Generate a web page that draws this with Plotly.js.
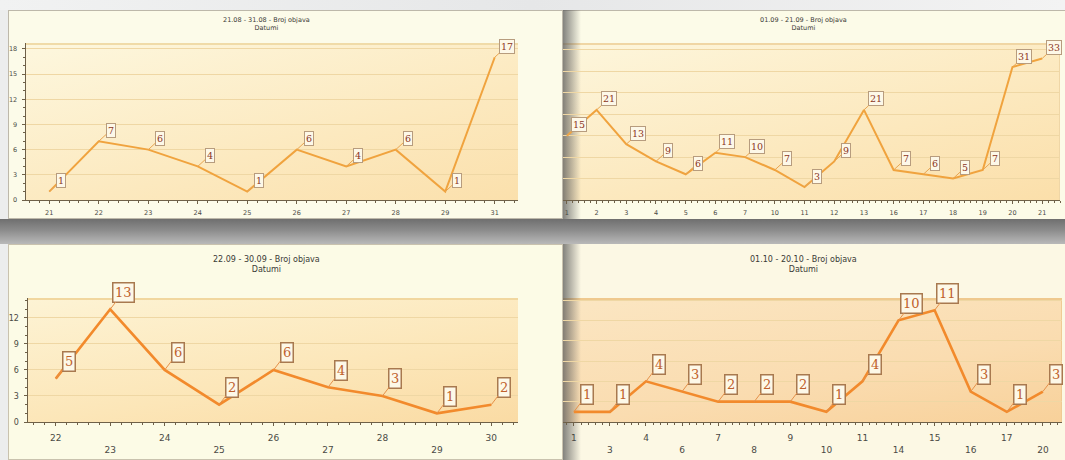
<!DOCTYPE html>
<html><head><meta charset="utf-8">
<script src="https://cdn.plot.ly/plotly-3.0.1.min.js"></script>
<style>
html,body{margin:0;padding:0;width:1065px;height:460px;overflow:hidden;background:#eceded;}
.abs{position:absolute;box-sizing:border-box;}
#chart{position:absolute;left:0;top:0;width:1065px;height:460px;}
</style></head>
<body>
<div class="abs" style="left:0;top:0;width:1065px;height:10px;background:linear-gradient(to right,#f1f2f2,#e6e7e8 50%,#f3f3f3);"></div>
<div class="abs" style="left:0;top:219px;width:1065px;height:25px;background:linear-gradient(to bottom,#6f6f6f,#8c8c8c 45%,#b9b9b9);"></div>
<div class="abs" style="left:8px;top:10px;width:555px;height:209px;background:#fcfbe9;border:1px solid #bdb8aa;"></div>
<div class="abs" style="left:563px;top:10px;width:502px;height:209px;background:#fcfbe8;border-top:1px solid #bdb8aa;"></div>
<div class="abs" style="left:8px;top:244px;width:555px;height:216px;background:#fcfbe6;border:1px solid #c9c2ae;"></div>
<div class="abs" style="left:563px;top:244px;width:502px;height:216px;background:#fcf8e4;"></div>
<div class="abs" style="left:26px;top:43px;width:492px;height:157px;background:linear-gradient(165deg,#fdf7de,#fce9bf 60%,#fbe0ac);border-top:2px solid #f0dba8;"></div>
<div class="abs" style="left:563px;top:43px;width:497px;height:157px;background:linear-gradient(165deg,#fdf6dc,#fce8bd 60%,#fbdfaa);border-top:2px solid #f0d6a4;border-right:1px solid #efd6a6;"></div>
<div class="abs" style="left:28px;top:298px;width:490px;height:124px;background:linear-gradient(170deg,#fdf3d4,#fce6b8 60%,#fadba4);border-top:2px solid #f1d79f;"></div>
<div class="abs" style="left:563px;top:298px;width:499px;height:124px;background:linear-gradient(170deg,#fbe6c2,#fadcb0 60%,#f8d19a);border-top:2px solid #efc98e;border-right:1px solid #efcb94;"></div>
<div class="abs" style="left:563px;top:10px;width:18px;height:209px;background:linear-gradient(to right,rgba(90,90,90,0.75),rgba(120,120,120,0));"></div>
<div class="abs" style="left:563px;top:244px;width:18px;height:216px;background:linear-gradient(to right,rgba(90,90,90,0.75),rgba(120,120,120,0));"></div>
<div id="chart"></div>
<script>
// ---- data ----
const cats1 = ["21","22","23","24","25","26","27","28","29","31"];
const vals1 = [1,7,6,4,1,6,4,6,1,17];
const title1 = "21.08 - 31.08 - Broj objava";

const cats2 = ["1","2","3","4","5","6","7","10","11","12","13","16","17","18","19","20","21"];
const vals2 = [15,21,13,9,6,11,10,7,3,9,21,7,6,5,7,31,33];
const title2 = "01.09 - 21.09 - Broj objava";

const cats3 = ["22","23","24","25","26","27","28","29","30"];
const vals3 = [5,13,6,2,6,4,3,1,2];
const title3 = "22.09 - 30.09 - Broj objava";

const cats4 = ["1","3","4","6","7","8","9","10","11","14","15","16","17","20"];
const vals4 = [1,1,4,3,2,2,2,1,4,10,11,3,1,3];
const title4 = "01.10 - 20.10 - Broj objava";

const subtitle = "Datumi";

// ---- layout helpers (pixel based) ----
const W = 1065, H = 460;
const dx = (a,b) => [a/W, b/W];
const dy = (top,bot) => [1-bot/H, 1-top/H];
const idx = arr => arr.map((_,i)=>i);

const topLine = {color:'#f0a33e', width:2};
const botLine = {color:'#f28a2c', width:2.6};

const traces = [
  {x: idx(cats1), y: vals1, xaxis:'x', yaxis:'y', mode:'lines', line:topLine, hoverinfo:'skip'},
  {x: idx(cats2), y: vals2, xaxis:'x2', yaxis:'y2', mode:'lines', line:topLine, hoverinfo:'skip'},
  {x: idx(cats3), y: vals3, xaxis:'x3', yaxis:'y3', mode:'lines', line:botLine, hoverinfo:'skip'},
  {x: idx(cats4), y: vals4, xaxis:'x4', yaxis:'y4', mode:'lines', line:botLine, hoverinfo:'skip'}
];

const axCol = '#6e6048';
const gridCol = '#efd7a4';
function xax(dom, cats, range, fs, standoff, twoRow, anchor){
  return {
    domain: dom, anchor: anchor, range: range, type:'linear',
    tickmode:'array', tickvals: idx(cats),
    ticktext: twoRow ? cats.map((c,i)=> i%2===0 ? c : '<br>'+c) : cats,
    tickfont:{family:'DejaVu Sans', size:fs, color:'#4a4a44'},
    ticks:'outside', ticklen:3, tickcolor:axCol, ticklabelstandoff: standoff,
    minor:{ticks:'outside', ticklen:2, dtick:0.2, tick0:0, tickcolor:axCol},
    showline:true, linecolor:axCol, linewidth:1, showgrid:false, zeroline:false, fixedrange:true
  };
}
function yax(dom, range, dt, fs, showLabels, anchor){
  return {
    domain: dom, anchor: anchor, range: range, dtick: dt, tick0:0,
    showticklabels: showLabels,
    tickfont:{family:'DejaVu Sans', size:fs, color:'#4a4a44'},
    ticks: showLabels ? 'outside' : '', ticklen:3, tickcolor:axCol, ticklabelstandoff: 3,
    minor: showLabels ? {ticks:'outside', ticklen:2, dtick:1, tick0:0, tickcolor:axCol} : {},
    showline: showLabels, linecolor:axCol, linewidth:1.5,
    showgrid:true, gridcolor:gridCol, gridwidth:1, zeroline:false, fixedrange:true
  };
}

function labels(cats, vals, xr, yr, small){
  return vals.map((v,i)=>({
    x:i, y:v, xref:xr, yref:yr, text:String(v), showarrow:true,
    arrowhead:0, arrowwidth:1, arrowcolor: small ? '#e8a552' : '#e5914a',
    ax: small ? 12 : 13, ay: small ? -11 : -17,
    bgcolor:'#fdf8e8', bordercolor: small ? '#b79c7e' : '#a8794f',
    borderwidth: small ? 1 : 1.5, borderpad: small ? 1 : 1.5,
    font:{family:'DejaVu Serif', size: small ? 9.5 : 13, color: small ? '#8c3524' : '#c0612c'}
  }));
}
function titleAnn(text, cx, cy, fs){
  return {x:cx/W, y:1-cy/H, xref:'paper', yref:'paper', xanchor:'center', yanchor:'middle',
    showarrow:false, text: text + '<br>' + subtitle,
    font:{family:'DejaVu Sans', size:fs, color:'#3a3a36'}};
}

const layout = {
  width:W, height:H, margin:{l:0,r:0,t:0,b:0},
  paper_bgcolor:'rgba(0,0,0,0)', plot_bgcolor:'rgba(0,0,0,0)',
  showlegend:false,
  xaxis:  xax(dx(26,518),  cats1, [-0.47, 9.47], 6.5, 3, false, 'y'),
  yaxis:  yax(dy(43,200),  [0,18.7], 3, 6.5, true, 'x'),
  xaxis2: xax(dx(563,1060), cats2, [-0.13, 16.6], 6.5, 3, false, 'y2'),
  yaxis2: yax(dy(43,200),  [0,36.6], 5, 6.5, false, 'x2'),
  xaxis3: xax(dx(28,518),  cats3, [-0.51, 8.49], 9, 4, true, 'y3'),
  yaxis3: yax(dy(298,422), [0,14.3], 3, 8, true, 'x3'),
  xaxis4: xax(dx(563,1062), cats4, [-0.3, 13.53], 9, 4, true, 'y4'),
  yaxis4: yax(dy(298,422), [0,12.2], 2, 8, false, 'x4'),
  annotations: [].concat(
    labels(cats1, vals1, 'x', 'y', true),
    labels(cats2, vals2, 'x2', 'y2', true),
    labels(cats3, vals3, 'x3', 'y3', false),
    labels(cats4, vals4, 'x4', 'y4', false),
    [titleAnn(title1, 266, 24, 6.5), titleAnn(title2, 803, 24, 6.5),
     titleAnn(title3, 266, 264, 8), titleAnn(title4, 803, 264, 8)]
  )
};

Plotly.newPlot('chart', traces, layout, {staticPlot:true, displayModeBar:false});
</script>
</body></html>
